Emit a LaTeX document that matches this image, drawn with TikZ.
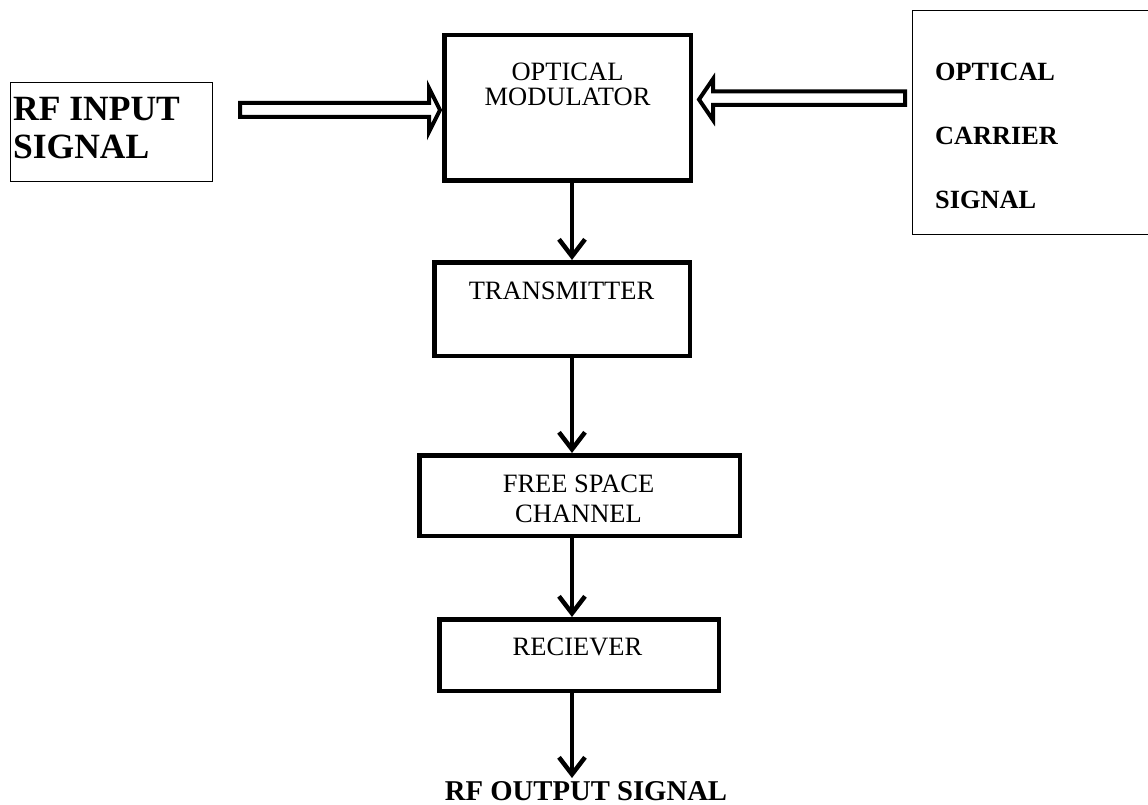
\documentclass[tikz,border=0pt]{standalone}
\usepackage{fontspec}
\setmainfont{Liberation Serif}
\usetikzlibrary{arrows.meta,calc}
\tikzset{
  thickbox/.style={draw=black,line width=4.5pt,inner sep=0pt,rectangle},
  thinbox/.style={draw=black,line width=1.2pt,inner sep=0pt,rectangle},
  regtext/.style={inner sep=0pt,align=center,font=\fontsize{26.5}{25}\selectfont},
  varrow/.style={line width=4.5pt,-{Straight Barb[length=17pt,width=26pt]}},
  blockarrow/.style={draw=black,line width=4pt,fill=white,line join=miter,miter limit=10},
}
\begin{document}
\begin{tikzpicture}[x=1pt,y=-1pt]
\useasboundingbox[fill=white] (0,0) rectangle (1148,805);
% boxes
\node[thinbox,minimum width=202pt,minimum height=99pt] (rfin) at (111.5,132) {};
\node[thickbox,minimum width=246.5pt,minimum height=145.5pt] (mod) at (567.5,108) {};
\node[thickbox,minimum width=255.5pt,minimum height=93.5pt] (trans) at (562,309) {};
\node[thickbox,minimum width=320.5pt,minimum height=80.5pt] (fsc) at (579.5,495.5) {};
\node[thickbox,minimum width=279.5pt,minimum height=71.5pt] (rcv) at (579,655) {};
\node[inner sep=0pt,minimum width=250pt,minimum height=224pt] (car) at (1038,122.5) {};
\draw[line width=1.2pt] (car.north east) -- (car.north west) -- (car.south west) -- (car.south east);
% texts
\node[inner sep=0pt,align=left,anchor=north west,font=\fontsize{35.5}{38}\selectfont\bfseries] (rfint) at (13,97.5) {RF INPUT\\SIGNAL};
\node[regtext,anchor=north] (modt) at (567.5,63) {OPTICAL\\MODULATOR};
\node[regtext,anchor=north] (transt) at (561.5,281.5) {TRANSMITTER};
\node[regtext,anchor=north,font=\fontsize{26.5}{30}\selectfont] (fsct) at (578.5,474.5) {FREE SPACE\\CHANNEL};
\node[regtext,anchor=north] (rcvt) at (577.5,637.5) {RECIEVER};
\node[inner sep=0pt,align=left,anchor=north west,font=\fontsize{26.3}{64}\selectfont\bfseries] (cart) at (935,62.5) {OPTICAL\\CARRIER\\SIGNAL};
\node[inner sep=0pt,anchor=base,font=\fontsize{28.7}{30}\selectfont\bfseries] (outt) at (586,800) {RF OUTPUT SIGNAL};
% vertical connectors
\coordinate (ax) at (572,0);
\coordinate (outend) at (572,778);
\draw[varrow] (mod.south -| ax) -- (trans.north -| ax);
\draw[varrow] (trans.south -| ax) -- (fsc.north -| ax);
\draw[varrow] (fsc.south -| ax) -- (rcv.north -| ax);
\draw[varrow] (rcv.south -| ax) -- (outend);
% block arrows
\draw[blockarrow] (240,103) -- (429,103) -- (429,88) -- (440,110) -- (429,132) -- (429,117) -- (240,117) -- cycle;
\draw[blockarrow] (905,91.5) -- (713,91.5) -- (713,79) -- (699,99.5) -- (713,120) -- (713,105) -- (905,105) -- cycle;
\end{tikzpicture}
\end{document}
